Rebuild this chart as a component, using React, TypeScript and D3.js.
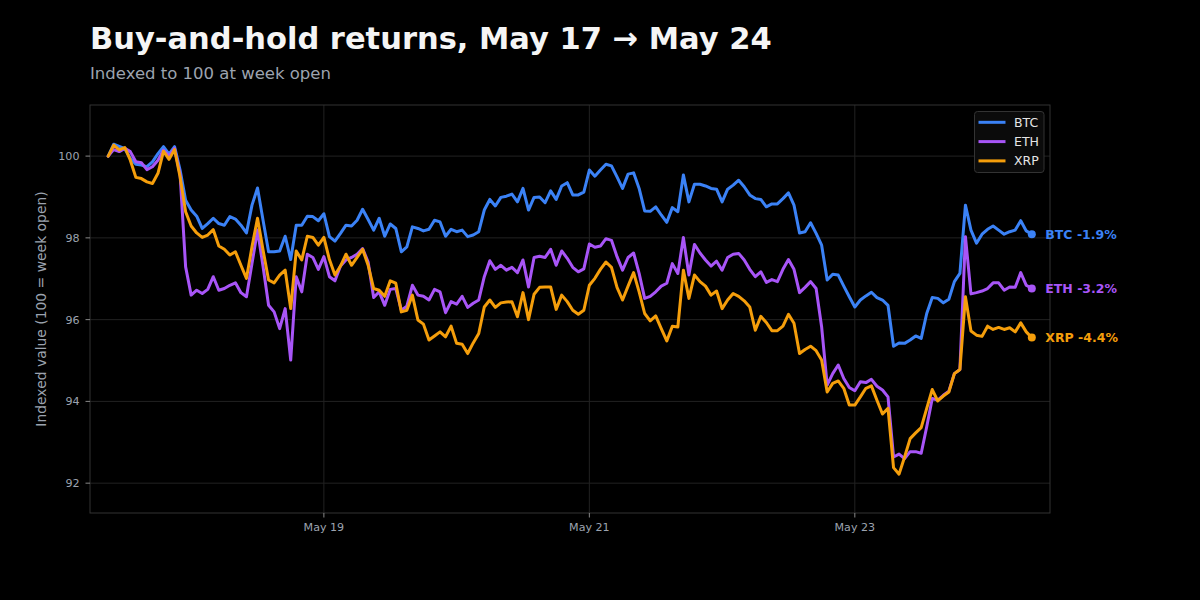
import React, { useEffect } from "react";
import * as d3 from "d3";

// hourly closes, indexed to 100 at the first hour (May 17 09:00)
const startTime = new Date(2025, 4, 17, 9);

const btc = [
  100.0, 100.29, 100.24, 100.18, 99.95, 99.8, 99.78, 99.74, 99.86, 100.06,
  100.23, 100.05, 100.23, 99.66, 98.92, 98.68, 98.53, 98.23, 98.35, 98.48,
  98.35, 98.31, 98.52, 98.46, 98.31, 98.12, 98.8, 99.22, 98.43, 97.66,
  97.66, 97.68, 98.04, 97.47, 98.31, 98.31, 98.53, 98.52, 98.42, 98.59,
  98.03, 97.92, 98.11, 98.31, 98.29, 98.43, 98.7, 98.45, 98.19, 98.48,
  98.04, 98.34, 98.23, 97.66, 97.78, 98.27, 98.23, 98.17, 98.21, 98.43,
  98.39, 98.04, 98.21, 98.15, 98.19, 98.03, 98.07, 98.15, 98.68, 98.94,
  98.78, 98.99, 99.02, 99.07, 98.88, 99.21, 98.68, 98.99, 99.0, 98.86,
  99.15, 98.94, 99.27, 99.35, 99.05, 99.05, 99.12, 99.66, 99.51, 99.66,
  99.8, 99.76, 99.49, 99.21, 99.56, 99.59, 99.21, 98.66, 98.65, 98.76,
  98.56, 98.38, 98.74, 98.64, 99.54, 98.88, 99.31, 99.31, 99.27, 99.21,
  99.19, 98.88, 99.19, 99.29, 99.41, 99.25, 99.05, 98.96, 98.94, 98.76,
  98.83, 98.83, 98.96, 99.1, 98.8, 98.12, 98.15, 98.37, 98.11, 97.82,
  96.97, 97.11, 97.09, 96.82, 96.56, 96.31, 96.48, 96.58, 96.67, 96.54,
  96.48, 96.35, 95.35, 95.43, 95.42, 95.5, 95.6, 95.54, 96.15, 96.54,
  96.52, 96.41, 96.5, 96.93, 97.13, 98.8, 98.19, 97.87, 98.09, 98.21,
  98.29, 98.19, 98.09, 98.15, 98.19, 98.42, 98.17, 98.09,
];

const eth = [
  100.0, 100.16, 100.11, 100.19, 100.11, 99.86, 99.84, 99.67, 99.74, 99.9,
  100.15, 100.0, 100.19, 99.55, 97.29, 96.6, 96.72, 96.64, 96.74, 97.05,
  96.72, 96.76, 96.84, 96.9, 96.66, 96.56, 97.37, 98.19, 97.3, 96.35,
  96.19, 95.78, 96.27, 95.01, 97.05, 96.68, 97.6, 97.52, 97.23, 97.54,
  97.05, 96.95, 97.31, 97.46, 97.52, 97.6, 97.74, 97.41, 96.54, 96.68,
  96.35, 96.74, 96.76, 96.23, 96.33, 96.84, 96.6, 96.57, 96.48, 96.74,
  96.68, 96.17, 96.44, 96.38, 96.57, 96.3, 96.4, 96.48, 97.05, 97.44,
  97.23, 97.33, 97.21, 97.28, 97.15, 97.46, 96.8, 97.52, 97.55, 97.52,
  97.72, 97.33, 97.68, 97.5, 97.28, 97.17, 97.24, 97.85, 97.77, 97.8,
  97.98, 97.94, 97.54, 97.21, 97.52, 97.63, 97.13, 96.52, 96.57, 96.68,
  96.82, 96.89, 97.37, 97.13, 98.01, 97.09, 97.84, 97.63, 97.46, 97.31,
  97.43, 97.21, 97.52, 97.6, 97.62, 97.46, 97.23, 97.05, 97.17, 96.91,
  96.98, 96.93, 97.23, 97.47, 97.23, 96.66, 96.79, 96.93, 96.76, 95.82,
  94.4, 94.68, 94.89, 94.56, 94.34, 94.26, 94.48, 94.46, 94.54, 94.37,
  94.28, 94.11, 92.64, 92.71, 92.6, 92.77, 92.77, 92.73, 93.38, 94.07,
  94.03, 94.15, 94.25, 94.68, 94.78, 98.03, 96.63, 96.66, 96.7, 96.76,
  96.9, 96.9, 96.72, 96.8, 96.79, 97.15, 96.84, 96.76,
];

const xrp = [
  100.0, 100.27, 100.15, 100.21, 99.9, 99.48, 99.45, 99.37, 99.33, 99.58,
  100.12, 99.92, 100.16, 99.49, 98.64, 98.29, 98.12, 98.01, 98.07, 98.2,
  97.8, 97.72, 97.58, 97.66, 97.33, 97.01, 97.78, 98.48, 97.7, 96.97,
  96.9, 97.09, 97.21, 96.27, 97.68, 97.46, 98.04, 98.01, 97.82, 98.01,
  97.47, 97.09, 97.31, 97.6, 97.33, 97.52, 97.72, 97.33, 96.76, 96.72,
  96.57, 96.95, 96.89, 96.19, 96.23, 96.6, 95.99, 95.89, 95.5, 95.6,
  95.7, 95.58, 95.84, 95.42, 95.4, 95.17, 95.43, 95.66, 96.31, 96.48,
  96.3, 96.41, 96.43, 96.44, 96.07, 96.66, 96.0, 96.62, 96.79, 96.8,
  96.8, 96.25, 96.6, 96.44, 96.23, 96.13, 96.23, 96.84, 97.01, 97.23,
  97.41, 97.28, 96.79, 96.48, 96.82, 97.15, 96.68, 96.15, 95.97, 96.09,
  95.78, 95.48, 95.84, 95.82, 97.21, 96.52, 97.09, 96.93, 96.82, 96.6,
  96.7, 96.27, 96.48, 96.64, 96.57, 96.46, 96.31, 95.74, 96.08, 95.93,
  95.73, 95.73, 95.84, 96.13, 95.91, 95.17, 95.27, 95.35, 95.24, 95.01,
  94.23, 94.44, 94.5, 94.32, 93.91, 93.91, 94.11, 94.32, 94.38, 94.03,
  93.69, 93.83, 92.38, 92.22, 92.64, 93.09, 93.23, 93.36, 93.83, 94.29,
  94.01, 94.13, 94.23, 94.68, 94.78, 96.56, 95.72, 95.62, 95.59, 95.84,
  95.76, 95.81, 95.76, 95.8, 95.7, 95.92, 95.7, 95.56,
];

const seriesNames = ["BTC", "ETH", "XRP"];
const seriesColors = ["#3b82f6", "#a855f7", "#f59e0b"];
const seriesValues = [btc, eth, xrp];
const yTicks = [92, 94, 96, 98, 100];

const W = 1200;
const H = 600;
const m = { left: 90, right: 150, top: 105, bottom: 87 };
const FONT = "DejaVu Sans, sans-serif";
const HOUR = 3600 * 1000;

export default function App() {
  useEffect(() => {
    document.body.style.margin = "0";
    document.body.style.background = "#000";
  }, []);

  const n = btc.length;
  const times = d3.range(n).map((i) => new Date(startTime.getTime() + i * HOUR));
  const t0 = times[0];
  const t1 = times[n - 1];
  const pad = (t1.getTime() - t0.getTime()) * 0.0197;

  const x = d3
    .scaleTime()
    .domain([new Date(t0.getTime() - pad), new Date(t1.getTime() + pad)])
    .range([m.left, W - m.right]);
  const y = d3.scaleLinear().domain([91.27, 101.25]).range([H - m.bottom, m.top]);

  const xTicks = x.ticks(d3.timeDay.every(2)!).filter((d) => d >= x.domain()[0]);
  const fmt = d3.timeFormat("%b %d");

  const line = d3
    .line<number>()
    .x((_, i) => x(times[i]))
    .y((d) => y(d));

  const muted = "#9ca3af";
  const plotW = W - m.left - m.right;
  const plotH = H - m.top - m.bottom;

  return (
    <svg width={W} height={H} style={{ display: "block", background: "#000" }} fontFamily={FONT}>
      <rect width={W} height={H} fill="#000" />

      <text x={90} y={48.5} fill="#f5f5f5" fontSize={30.5} fontWeight="bold">
        Buy-and-hold returns, May 17 → May 24
      </text>
      <text x={90} y={78.5} fill={muted} fontSize={16.5}>
        Indexed to 100 at week open
      </text>

      {/* grid */}
      {yTicks.map((t) => (
        <line key={"gy" + t} x1={m.left} x2={W - m.right} y1={y(t)} y2={y(t)} stroke="#222" />
      ))}
      {xTicks.map((t) => (
        <line key={"gx" + t.getTime()} x1={x(t)} x2={x(t)} y1={m.top} y2={H - m.bottom} stroke="#222" />
      ))}

      {/* frame */}
      <rect x={m.left} y={m.top} width={plotW} height={plotH} fill="none" stroke="#333" />

      {/* y axis */}
      {yTicks.map((t) => (
        <g key={"ty" + t}>
          <line x1={m.left - 4.5} x2={m.left} y1={y(t)} y2={y(t)} stroke="#888" />
          <text x={m.left - 10.5} y={y(t)} dy="0.35em" textAnchor="end" fill={muted} fontSize={11.1}>
            {t}
          </text>
        </g>
      ))}
      <text
        transform={`translate(46,${m.top + plotH / 2}) rotate(-90)`}
        textAnchor="middle"
        fill={muted}
        fontSize={13.9}
      >
        Indexed value (100 = week open)
      </text>

      {/* x axis */}
      {xTicks.map((t) => (
        <g key={"tx" + t.getTime()}>
          <line x1={x(t)} x2={x(t)} y1={H - m.bottom} y2={H - m.bottom + 4.5} stroke="#888" />
          <text x={x(t)} y={530.5} textAnchor="middle" fill={muted} fontSize={11.1}>
            {fmt(t)}
          </text>
        </g>
      ))}

      {/* lines */}
      {seriesValues.map((vals, k) => (
        <path
          key={seriesNames[k]}
          d={line(vals) || ""}
          fill="none"
          stroke={seriesColors[k]}
          strokeWidth={3}
          strokeLinejoin="round"
          strokeLinecap="round"
        />
      ))}

      {/* end markers and labels */}
      {seriesValues.map((vals, k) => {
        const last = vals[vals.length - 1];
        const pct = ((last - 100) / 100) * 100;
        const cx = x(t1);
        const cy = y(last);
        return (
          <g key={"end" + k}>
            <circle cx={cx} cy={cy} r={4} fill={seriesColors[k]} />
            <text x={cx + 13.5} y={cy} dy="0.35em" fill={seriesColors[k]} fontSize={12.5} fontWeight="bold">
              {`${seriesNames[k]} ${pct.toFixed(1)}%`}
            </text>
          </g>
        );
      })}

      {/* legend */}
      <g>
        <rect x={974.5} y={111.5} width={69.5} height={61} rx={3} fill="#0b0b0b" stroke="#333" />
        {seriesNames.map((name, k) => {
          const ly = 122.3 + k * 19.3;
          return (
            <g key={"lg" + name}>
              <line x1={978.5} x2={1005.5} y1={ly} y2={ly} stroke={seriesColors[k]} strokeWidth={3} />
              <text x={1014} y={ly} dy="0.35em" fill="#e5e5e5" fontSize={12.5}>
                {name}
              </text>
            </g>
          );
        })}
      </g>
    </svg>
  );
}
